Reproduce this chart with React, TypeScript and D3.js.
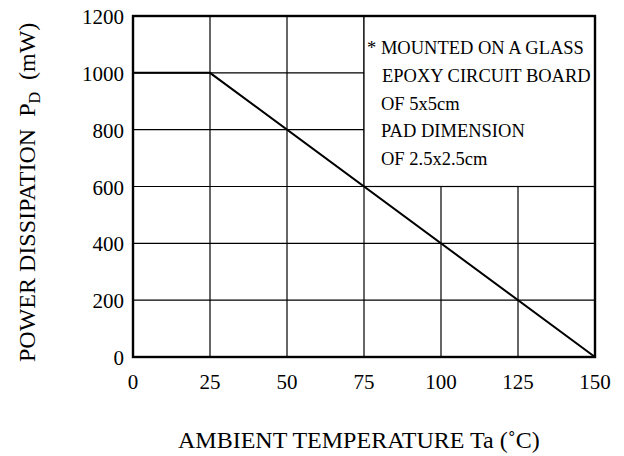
import React, { useEffect, useRef } from "react";
import * as d3 from "d3";

const xTicks = [0, 25, 50, 75, 100, 125, 150];
const yTicks = [0, 200, 400, 600, 800, 1000, 1200];
const temps = [0, 25, 150];
const power = [1000, 1000, 0];
const noteLines = [
  "* MOUNTED ON A GLASS",
  "EPOXY CIRCUIT BOARD",
  "OF 5x5cm",
  "PAD DIMENSION",
  "OF 2.5x2.5cm",
];

function App() {
  const svgRef = useRef<SVGSVGElement>(null);

  useEffect(() => {
    const w = 624;
    const h = 456;
    const left = 133;
    const right = 595;
    const top = 16;
    const bottom = 357;
    const font = "'Liberation Serif', 'Times New Roman', serif";

    d3.select(svgRef.current).selectAll("*").remove();

    const svg = d3
      .select(svgRef.current)
      .attr("width", w)
      .attr("height", h)
      .style("background", "#fff");

    const x = d3.scaleLinear().domain([0, 150]).range([left, right]);
    const y = d3.scaleLinear().domain([0, 1200]).range([bottom, top]);

    // grid
    svg
      .append("g")
      .selectAll("line")
      .data(xTicks.slice(1, -1))
      .join("line")
      .attr("x1", (d) => x(d))
      .attr("x2", (d) => x(d))
      .attr("y1", y(0))
      .attr("y2", y(1200))
      .attr("stroke", "#000")
      .attr("stroke-width", 1.2);

    svg
      .append("g")
      .selectAll("line")
      .data(yTicks.slice(1, -1))
      .join("line")
      .attr("x1", x(0))
      .attr("x2", x(150))
      .attr("y1", (d) => y(d))
      .attr("y2", (d) => y(d))
      .attr("stroke", "#000")
      .attr("stroke-width", 1.2);

    // white note box covering the grid
    svg
      .append("rect")
      .attr("x", x(75))
      .attr("y", y(1200))
      .attr("width", x(150) - x(75))
      .attr("height", y(600) - y(1200))
      .attr("fill", "#fff")
      .attr("stroke", "#000")
      .attr("stroke-width", 1.2);

    // derating line
    const line = d3
      .line<number>()
      .x((d, i) => x(temps[i]))
      .y((d) => y(d));
    svg
      .append("path")
      .attr("d", line(power))
      .attr("fill", "none")
      .attr("stroke", "#000")
      .attr("stroke-width", 2);

    // frame
    svg
      .append("rect")
      .attr("x", x(0))
      .attr("y", y(1200))
      .attr("width", x(150) - x(0))
      .attr("height", y(0) - y(1200))
      .attr("fill", "none")
      .attr("stroke", "#000")
      .attr("stroke-width", 2.4);

    // tick labels
    svg
      .append("g")
      .selectAll("text")
      .data(xTicks)
      .join("text")
      .attr("x", (d) => x(d))
      .attr("y", 389)
      .attr("text-anchor", "middle")
      .attr("font-family", font)
      .attr("font-size", 21)
      .text((d) => d);

    svg
      .append("g")
      .selectAll("text")
      .data(yTicks)
      .join("text")
      .attr("x", 124)
      .attr("y", (d) => y(d) + 8)
      .attr("text-anchor", "end")
      .attr("font-family", font)
      .attr("font-size", 21)
      .text((d) => d);

    // note
    svg
      .append("g")
      .selectAll("text")
      .data(noteLines)
      .join("text")
      .attr("x", (d, i) => (i === 0 ? 367 : i === 1 ? 382 : 381))
      .attr("y", (d, i) => 54 + i * 27.8)
      .attr("font-family", font)
      .attr("font-size", 18.5)
      .text((d) => d);

    // x axis title
    svg
      .append("text")
      .attr("x", 178)
      .attr("y", 448)
      .attr("font-family", font)
      .attr("font-size", 24)
      .text("AMBIENT TEMPERATURE Ta (˚C)");

    // y axis title
    const yt = svg
      .append("text")
      .attr("transform", `translate(35,${362}) rotate(-90)`)
      .attr("font-family", font)
      .attr("font-size", 24)
      .attr("xml:space", "preserve")
      .style("white-space", "pre");
    yt.append("tspan").text("POWER DISSIPATION  P");
    yt.append("tspan").attr("font-size", 16).attr("dy", 5).text("D");
    yt.append("tspan").attr("dy", -5).text("  (mW)");
  }, []);

  return <svg ref={svgRef} style={{ position: "absolute", left: 0, top: 0 }}></svg>;
}

export default App;
